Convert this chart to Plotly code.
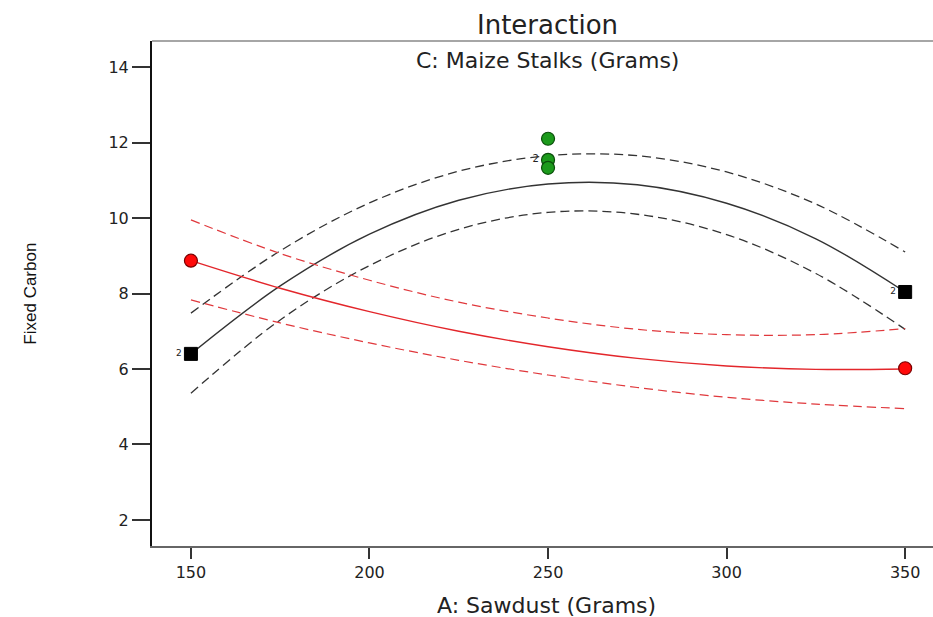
import plotly.graph_objects as go

# ---- data ----
x_curve = [150, 175, 200, 225, 250, 275, 300, 325, 350]

black_fit = [6.40, 8.20, 9.57, 10.47, 10.90, 10.88, 10.39, 9.45, 8.04]
black_upper = [7.48, 9.13, 10.40, 11.24, 11.65, 11.65, 11.22, 10.37, 9.10]
black_lower = [5.36, 7.30, 8.74, 9.70, 10.15, 10.10, 9.56, 8.53, 7.05]

red_fit = [8.87, 8.14, 7.52, 7.00, 6.59, 6.28, 6.08, 5.99, 6.00]
red_upper = [9.95, 9.06, 8.35, 7.77, 7.35, 7.05, 6.91, 6.91, 7.07]
red_lower = [7.83, 7.22, 6.69, 6.23, 5.84, 5.51, 5.25, 5.07, 4.95]

black_pts_x = [150, 350]
black_pts_y = [6.40, 8.04]
black_pts_lbl = ["2", "2"]

red_pts_x = [150, 350]
red_pts_y = [8.87, 6.02]

green_pts_x = [250, 250, 250]
green_pts_y = [12.10, 11.54, 11.33]
green_pts_lbl = ["", "2", ""]

x_ticks = [150, 200, 250, 300, 350]
y_ticks = [2, 4, 6, 8, 10, 12, 14]

FONT = "DejaVu Sans"

fig = go.Figure()

dash_pat = "9px,5px"
# black curves
fig.add_trace(go.Scatter(x=x_curve, y=black_upper, mode="lines", line=dict(color="#333333", width=1.3, dash=dash_pat, shape="spline"), hoverinfo="skip"))
fig.add_trace(go.Scatter(x=x_curve, y=black_lower, mode="lines", line=dict(color="#333333", width=1.3, dash=dash_pat, shape="spline"), hoverinfo="skip"))
fig.add_trace(go.Scatter(x=x_curve, y=black_fit, mode="lines", line=dict(color="#333333", width=1.4, shape="spline")))
# red curves
fig.add_trace(go.Scatter(x=x_curve, y=red_upper, mode="lines", line=dict(color="#e0383c", width=1.2, dash=dash_pat, shape="spline"), hoverinfo="skip"))
fig.add_trace(go.Scatter(x=x_curve, y=red_lower, mode="lines", line=dict(color="#e0383c", width=1.2, dash=dash_pat, shape="spline"), hoverinfo="skip"))
fig.add_trace(go.Scatter(x=x_curve, y=red_fit, mode="lines", line=dict(color="#e3262b", width=1.4, shape="spline")))

# design points
fig.add_trace(go.Scatter(x=black_pts_x, y=black_pts_y, mode="markers+text", text=black_pts_lbl,
                         textposition="middle left", textfont=dict(family=FONT, size=9, color="#222"),
                         marker=dict(symbol="square", size=13, color="#000000", line=dict(color="#000", width=1))))
fig.add_trace(go.Scatter(x=red_pts_x, y=red_pts_y, mode="markers",
                         marker=dict(symbol="circle", size=13, color="#ff0a0a", line=dict(color="#7a0000", width=1.2))))
fig.add_trace(go.Scatter(x=green_pts_x, y=green_pts_y, mode="markers+text", text=green_pts_lbl,
                         textposition="middle left", textfont=dict(family=FONT, size=10, color="#222"),
                         marker=dict(symbol="circle", size=13, color="#1c9a1c", line=dict(color="#0a4f0a", width=1.2))))

fig.update_layout(
    width=933, height=617,
    margin=dict(l=152, r=0, t=41, b=71),
    paper_bgcolor="white", plot_bgcolor="white",
    showlegend=False,
    font=dict(family=FONT, color="#222"),
    xaxis=dict(range=[139.1, 357.8], tickvals=x_ticks, ticks="outside", ticklen=11, tickwidth=1.5,
               tickcolor="#333", showgrid=False, zeroline=False, showline=True, linecolor="#666",
               linewidth=1.5, tickfont=dict(family=FONT, size=16, color="#222")),
    yaxis=dict(range=[1.31, 14.69], tickvals=y_ticks, ticks="outside", ticklen=18, tickwidth=1.5,
               tickcolor="#333", showgrid=False, zeroline=False, showline=True, linecolor="#111",
               linewidth=2, tickfont=dict(family=FONT, size=16, color="#222")),
    shapes=[dict(type="line", xref="paper", yref="paper", x0=0, x1=1, y0=1, y1=1,
                 line=dict(color="#888888", width=1.5))],
    annotations=[
        dict(text="Interaction", xref="paper", yref="paper", x=0.506, y=1.031, xanchor="center", yanchor="middle",
             showarrow=False, font=dict(family=FONT, size=26, color="#222")),
        dict(text="C: Maize Stalks (Grams)", xref="paper", yref="paper", x=0.506, y=0.962, xanchor="center",
             yanchor="middle", showarrow=False, font=dict(family=FONT, size=22, color="#222")),
        dict(text="A: Sawdust (Grams)", xref="paper", yref="paper", x=0.5045, y=-0.117, xanchor="center",
             yanchor="middle", showarrow=False, font=dict(family=FONT, size=22, color="#222")),
        dict(text="Fixed Carbon", xref="paper", yref="paper", x=-0.156, y=0.5, xanchor="center",
             yanchor="middle", textangle=-90, showarrow=False,
             font=dict(family="Liberation Sans", size=17, color="#111")),
    ],
)

# remove the default 8px page margin and scrollbars so the figure fills the window exactly
fig.write_html("out.html", config={"displayModeBar": False},
               post_script="document.body.style.margin='0';document.body.style.overflow='hidden';")
